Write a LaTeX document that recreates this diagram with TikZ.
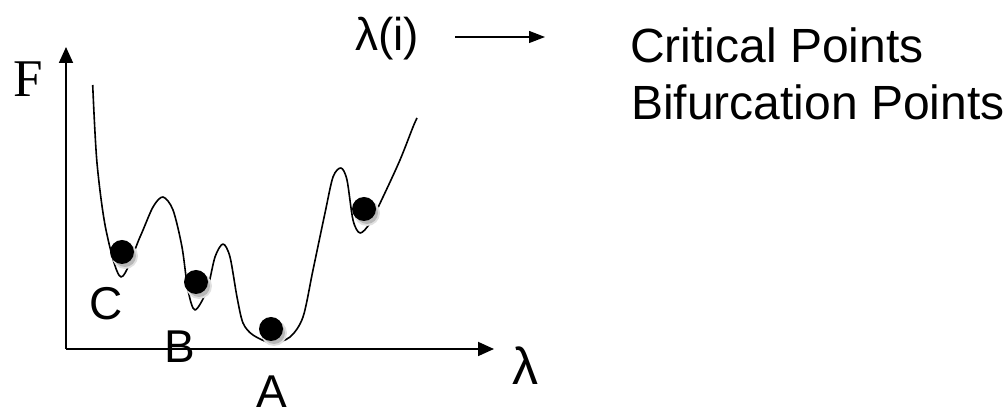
\documentclass[tikz,border=0pt]{standalone}
\usepackage{fontspec}
\setmainfont{Liberation Sans}
\newfontfamily\serifF{Liberation Serif}
\usetikzlibrary{arrows.meta}
\begin{document}
\begin{tikzpicture}[x=1pt,y=1pt,
  axis/.style={line width=1.8pt,-{Triangle[length=16pt,width=14pt]}},
  curve/.style={line width=1.6pt,line join=round},
  ball/.style={fill=black,circle,inner sep=0pt,minimum size=24pt},
  shadowA/.style={fill=black!12,circle,inner sep=0pt,minimum size=26pt},
  shadowB/.style={fill=black!28,circle,inner sep=0pt,minimum size=22pt},
  lbl/.style={font=\fontsize{46}{50}\selectfont,inner sep=0pt},
  big/.style={font=\fontsize{48}{52}\selectfont,inner sep=0pt}]
\useasboundingbox (0,0) rectangle (1007,409);
\coordinate (O) at (66,60);
\coordinate (Ytip) at (66,362);
\coordinate (Xtip) at (494,60);
\draw[axis] (O) -- (Ytip);
\draw[axis] (O) -- (Xtip);
\node[inner sep=0pt,anchor=base,font=\fontsize{53}{56}\selectfont\serifF] (F) at (28,312) {F};
\draw[curve] plot[smooth,tension=0.5] coordinates {
 (92.7,324) (97,246) (106,179) (121,132) (140,172) (153,202) (163,212)
 (173,199) (182,162) (188,119) (195,99) (207,119) (215,152) (223,165)
 (230,152) (237,112) (243,86) (253,74) (272,66) (290,72) (303,92)
 (313,139) (325,196) (333,232) (341,241) (347,229) (353,189) (360,176)
 (370,186) (383,212) (400,249) (413,282) (417,291)};
\foreach \n/\x/\y in {bc/122/157, bb/196/127, ba/271/80, bd/364/200}{
  \node[shadowA] (sa\n) at (\x+3,\y-4) {};
  \node[shadowB] (sb\n) at (\x+3,\y-4) {};
  \node[ball] (\n) at (\x,\y) {};
}
\node[lbl] (C) at (106,105) {C};
\node[lbl] (B) at (180,62) {B};
\node[lbl,anchor=base] (A) at (272,1) {A};
\node[font=\fontsize{52}{56}\selectfont,inner sep=0pt,anchor=base] (lam) at (525,24) {λ};
\node[lbl] (li) at (387,370.5) {λ(i)};
\coordinate (as) at (455,372);
\coordinate (ae) at (545,372);
\draw[line width=1.3pt,-{Triangle[length=16pt,width=12pt]}] (as) -- (ae);
\node[big,anchor=base west] (cp) at (630,346) {Critical Points};
\node[big,anchor=base west] (bp) at (631,289) {Bifurcation Points};
\end{tikzpicture}
\end{document}
